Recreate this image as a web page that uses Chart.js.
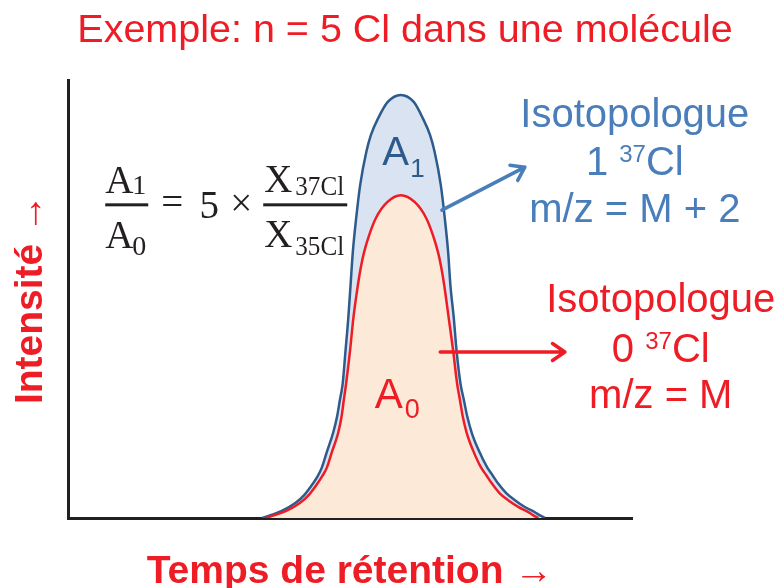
<!DOCTYPE html>
<html>
<head>
<meta charset="utf-8">
<script src="https://cdn.jsdelivr.net/npm/chart.js@4"></script>
<style>
  html, body { margin: 0; padding: 0; background: #fff; }
</style>
</head>
<body>
<canvas id="peakChart" width="777" height="588"></canvas>
<script>
// total peak (M + M+2): retention time (a.u.) / intensity (%)
const totalTimes = [3.44, 3.58, 3.79, 4.03, 4.20, 4.34, 4.43, 4.50, 4.59, 4.70, 4.77, 4.82, 4.87, 4.92, 4.97, 5.01,
  5.05, 5.11, 5.18, 5.29, 5.37, 5.50, 5.67, 5.90, 6.13, 6.29, 6.42, 6.50, 6.61, 6.68, 6.74, 6.78, 6.84, 6.89, 6.96,
  7.02, 7.08, 7.16, 7.28, 7.43, 7.53, 7.63, 7.77, 7.93, 8.10, 8.28, 8.37, 8.46];
const totalIntensity = [0, 0.6, 1.6, 3.4, 5.4, 7.8, 9.6, 11.5, 15.1, 19.4, 23.1, 26.9, 30.6, 38.1, 45.7, 53.2,
  60.7, 68.5, 76.0, 83.6, 87.4, 91.3, 95.0, 96.6, 95.0, 91.3, 87.4, 83.6, 76.0, 68.5, 60.7, 53.2, 45.7, 38.1, 30.6,
  26.9, 23.1, 19.4, 15.5, 11.6, 9.7, 7.8, 5.7, 4.0, 2.5, 1.3, 0.6, 0];
// isotopologue 0 37Cl (m/z = M)
const m0Times = [3.51, 3.65, 3.87, 4.11, 4.28, 4.42, 4.51, 4.59, 4.68, 4.79, 4.85, 4.89, 4.93, 5.00, 5.06, 5.14,
  5.19, 5.25, 5.34, 5.46, 5.66, 5.90, 6.15, 6.35, 6.47, 6.56, 6.62, 6.67, 6.75, 6.83, 6.90, 6.95, 7.00, 7.07, 7.18,
  7.32, 7.42, 7.52, 7.65, 7.81, 7.99, 8.17, 8.25, 8.34];
const m0Intensity = [0, 0.6, 1.6, 3.4, 5.4, 7.8, 9.6, 11.5, 15.1, 19.4, 23.1, 26.9, 30.6, 38.1, 45.7, 53.2,
  57.1, 60.7, 64.6, 68.5, 72.1, 73.7, 72.1, 68.5, 64.6, 60.7, 57.1, 53.2, 45.7, 38.1, 30.6, 26.9, 23.1, 19.4, 15.5,
  11.6, 9.7, 7.8, 5.7, 4.0, 2.5, 1.3, 0.6, 0];

// texts
const titleText = "Exemple: n = 5 Cl dans une molécule";
const xAxisLabel = "Temps de rétention →";
const yAxisLabel = "Intensité →";
const blueLines = ["Isotopologue", ["1 ", "37", "Cl"], "m/z = M + 2"];
const redLines = ["Isotopologue", ["0 ", "37", "Cl"], "m/z = M"];

const red = "#ee1c25";
const blueText = "#4a7ebb";
const darkBlue = "#2d5b8c";
const ink = "#231f20";
const sans = '"Liberation Sans", Arial, sans-serif';
const serif = '"Liberation Serif", "Times New Roman", serif';

const toPoints = (xs, ys) => xs.map((x, i) => ({ x: x, y: ys[i] }));

// arrow: straight shaft with an open head
function drawArrow(ctx, x1, y1, x2, y2, color) {
  const a = Math.atan2(y2 - y1, x2 - x1);
  const h = 15;
  ctx.save();
  ctx.strokeStyle = color;
  ctx.lineWidth = 3.5;
  ctx.lineCap = "round";
  ctx.lineJoin = "round";
  ctx.beginPath();
  ctx.moveTo(x1, y1);
  ctx.lineTo(x2, y2);
  ctx.moveTo(x2 - h * Math.cos(a - 0.6), y2 - h * Math.sin(a - 0.6));
  ctx.lineTo(x2, y2);
  ctx.lineTo(x2 - h * Math.cos(a + 0.6), y2 - h * Math.sin(a + 0.6));
  ctx.stroke();
  ctx.restore();
}

// three centred lines, the middle one with a superscript
function drawBlock(ctx, lines, cx, baselines, color) {
  ctx.save();
  ctx.fillStyle = color;
  ctx.font = "40px " + sans;
  ctx.textAlign = "center";
  ctx.fillText(lines[0], cx, baselines[0]);
  ctx.fillText(lines[2], cx, baselines[2]);
  ctx.textAlign = "left";
  const [lead, sup, tail] = lines[1];
  const w1 = ctx.measureText(lead).width;
  const w3 = ctx.measureText(tail).width;
  ctx.font = "24px " + sans;
  const w2 = ctx.measureText(sup).width;
  let x = cx - (w1 + w2 + w3) / 2;
  ctx.font = "40px " + sans;
  ctx.fillText(lead, x, baselines[1]);
  ctx.font = "24px " + sans;
  ctx.fillText(sup, x + w1, baselines[1] - 13);
  ctx.font = "40px " + sans;
  ctx.fillText(tail, x + w1 + w2, baselines[1]);
  ctx.restore();
}

const annotations = {
  id: "annotations",
  afterDraw(chart) {
    const ctx = chart.ctx;
    const px = (v) => chart.scales.x.getPixelForValue(v);
    const py = (v) => chart.scales.y.getPixelForValue(v);
    ctx.save();

    // title
    ctx.fillStyle = red;
    ctx.font = "39.5px " + sans;
    ctx.textAlign = "center";
    ctx.fillText(titleText, 405, 42);

    // axis labels
    ctx.font = "bold 39px " + sans;
    ctx.fillText(xAxisLabel, (chart.chartArea.left + chart.chartArea.right) / 2, 583);
    ctx.save();
    ctx.translate(42, (chart.chartArea.top + chart.chartArea.bottom) / 2);
    ctx.rotate(-Math.PI / 2);
    ctx.fillText(yAxisLabel, 0, 0);
    ctx.restore();

    // formula A1/A0 = 5 x X37Cl/X35Cl
    const fx = px(0.66), fy = py(71.5);
    ctx.fillStyle = ink;
    ctx.textAlign = "left";
    ctx.font = "39px " + serif;
    ctx.fillText("A", fx, fy - 12);
    ctx.fillText("A", fx, fy + 43);
    ctx.fillText("X", fx + 159, fy - 13);
    ctx.fillText("X", fx + 159, fy + 42);
    ctx.font = "28px " + serif;
    ctx.fillText("1", fx + 27, fy - 11);
    ctx.fillText("0", fx + 27, fy + 50);
    ctx.fillText("37Cl", fx + 190, fy - 10, 49);
    ctx.fillText("35Cl", fx + 190, fy + 50, 49);
    ctx.fillRect(fx, fy - 1.5, 43, 3);
    ctx.fillRect(fx + 158, fy - 1.5, 84, 3);
    ctx.font = "39px " + serif;
    ctx.textAlign = "center";
    ctx.fillText("=", fx + 67, fy + 10);
    ctx.fillText("5", fx + 104, fy + 13);
    ctx.fillText("×", fx + 136, fy + 11);

    // peak labels
    ctx.textAlign = "left";
    ctx.fillStyle = darkBlue;
    ctx.font = "40px " + sans;
    ctx.fillText("A", px(5.57), py(80.6));
    ctx.font = "26px " + sans;
    ctx.fillText("1", px(5.57) + 28, py(80.6) + 12);
    ctx.fillStyle = red;
    ctx.font = "42px " + sans;
    ctx.fillText("A", px(5.44), py(25.1));
    ctx.font = "27px " + sans;
    ctx.fillText("0", px(5.44) + 30, py(25.1) + 10);

    // arrows to the isotopologue notes
    drawArrow(ctx, px(6.63), py(70.3), px(8.1), py(80.1), blueText);
    drawArrow(ctx, px(6.6), py(37.9), px(8.81), py(37.9), red);

    drawBlock(ctx, blueLines, px(10.05), [py(89.3), py(78.3), py(67.6)], blueText);
    drawBlock(ctx, redLines, px(10.51), [py(47.0), py(35.6), py(25.1)], red);
    ctx.restore();
  },
};

const axisStyle = {
  grid: { display: false, drawTicks: false },
  ticks: { display: false },
  border: { display: true, color: ink, width: 3 },
  z: 1,
};

new Chart(document.getElementById("peakChart").getContext("2d"), {
  type: "line",
  data: {
    datasets: [
      {
        label: "0 37Cl",
        data: toPoints(m0Times, m0Intensity),
        borderColor: red,
        backgroundColor: "#fce9d8",
        borderWidth: 2.5,
        fill: "origin",
        cubicInterpolationMode: "monotone",
        pointRadius: 0,
      },
      {
        label: "total",
        data: toPoints(totalTimes, totalIntensity),
        borderColor: darkBlue,
        backgroundColor: "#dae3f1",
        borderWidth: 2.5,
        fill: "origin",
        cubicInterpolationMode: "monotone",
        pointRadius: 0,
      },
    ],
  },
  options: {
    responsive: false,
    animation: false,
    devicePixelRatio: 1,
    layout: { padding: { left: 68, right: 145, top: 80, bottom: 70 } },
    plugins: { legend: { display: false }, tooltip: { enabled: false } },
    scales: {
      x: { type: "linear", min: 0, max: 10, ...axisStyle },
      y: { min: 0, max: 100, ...axisStyle },
    },
  },
  plugins: [annotations],
});
</script>
</body>
</html>
